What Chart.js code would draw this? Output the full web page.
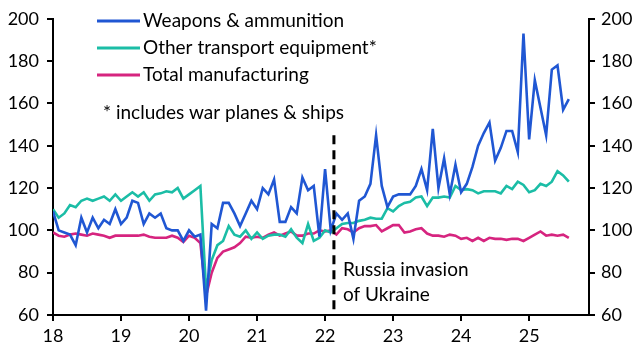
<!DOCTYPE html>
<html>
<head>
<meta charset="utf-8">
<script src="https://cdn.jsdelivr.net/npm/chart.js@4"></script>
<style>
  html, body { margin: 0; padding: 0; background: #fff; }
  #wrap { width: 640px; height: 354px; }
</style>
</head>
<body>
<div id="wrap"><canvas id="chart" width="640" height="354"></canvas></div>
<script>
'use strict';

// monthly index values, Jan 2018 to Aug 2025
var startYear = 18;
var yearTicks = [18, 19, 20, 21, 22, 23, 24, 25];
var valueTicks = [60, 80, 100, 120, 140, 160, 180, 200];
var seriesNames = ['Weapons & ammunition', 'Other transport equipment*', 'Total manufacturing'];
var seriesColors = ['#2057d3', '#1bbda6', '#d6247f'];

var weapons = [
    109, 100, 99, 98, 93, 106, 99, 106, 101, 105, 103, 110,
    103, 106, 114, 113, 103, 108, 106, 108, 101, 100, 100, 95,
    100, 97, 98, 62, 103, 101, 113, 113, 108, 102, 108, 114,
    110, 120, 117, 124, 104, 104, 111, 108, 125, 119, 121, 97,
    129, 100, 108, 105, 108, 96, 114, 116, 122, 145, 121, 111,
    116, 117, 117, 117, 121, 129, 119, 148, 120, 134, 117, 131,
    118, 122, 130, 140, 146, 151, 133, 139, 147, 147, 137, 193,
    143, 171, 158, 145, 176, 178, 157, 162
];
var otherTransport = [
    110, 106, 108, 112, 111, 114, 115, 114, 115, 116, 114, 117,
    114, 116, 118, 116, 118, 114, 117, 117.5, 118.5, 118, 120, 115,
    117, 119, 121, 72, 86, 93, 95, 102, 98, 97, 100, 96,
    99, 96, 97.5, 98, 98, 97, 100.5, 96.5, 94, 103, 95, 96.5,
    100, 99, 101, 103, 103.5, 103.5, 104.5, 105, 106, 105.5, 105.5, 110.5,
    109, 111.5, 113, 113.5, 115.5, 116, 111.5, 115.5, 115.5, 116, 115.5, 121,
    119, 119.5, 119, 117.5, 118.5, 118.5, 118.5, 117.5, 121, 119.5, 123, 121.5,
    118, 119, 122, 121, 123, 128, 126, 123
];
var totalMfg = [
    99, 97.5, 97, 98, 98.5, 98, 97.5, 98.5, 98, 97.5, 96.5, 97.5,
    97.5, 97.5, 97.5, 97.5, 98, 97, 96.5, 96.5, 96.5, 97.5, 96.5, 94.5,
    97.5, 96.5, 94, 69, 80, 87, 90, 91, 92, 94, 97, 96.5,
    97, 96.5, 98, 99, 97.5, 98.5, 99.5, 97.5, 97.5, 98.5, 98.5, 100,
    99.5, 100, 98, 101, 100.5, 99, 101, 102, 102, 102.5, 99.5, 101,
    102.5, 102.5, 99, 99.5, 100.5, 101, 98.5, 97.5, 97.5, 97, 98, 97.5,
    96, 96.5, 95, 96.5, 95, 96.5, 96, 96, 95.5, 96, 96, 95,
    96.5, 98, 99.5, 97.5, 98, 97.5, 98, 96.5
];

var invasionAt = 22.13;
var invasionTop = 145;

var FONT = 'Lato, "Noto Sans", sans-serif';

function toPoints(values) {
    return values.map((v, i) => ({ x: startYear + i / 12, y: v }));
}

var overlay = {
    id: 'overlay',
    afterDatasetsDraw: function (chart) {
        var ctx = chart.ctx;
        var xs = chart.scales.x;
        var ys = chart.scales.y;
        var area = chart.chartArea;

        // invasion marker
        var dx = xs.getPixelForValue(invasionAt);
        ctx.save();
        ctx.strokeStyle = '#000';
        ctx.lineWidth = 3;
        ctx.setLineDash([9, 6]);
        ctx.beginPath();
        ctx.moveTo(dx, ys.getPixelForValue(invasionTop));
        ctx.lineTo(dx, area.bottom);
        ctx.stroke();
        ctx.setLineDash([]);

        ctx.fillStyle = '#000';
        ctx.font = '19px ' + FONT;
        ctx.textBaseline = 'middle';
        ctx.textAlign = 'left';
        ctx.fillText('Russia invasion', dx + 9, 270);
        ctx.fillText('of Ukraine', dx + 9, 295);

        // legend
        seriesNames.forEach((name, i) => {
            var ly = 21 + i * 27;
            ctx.strokeStyle = seriesColors[i];
            ctx.lineWidth = 3;
            ctx.beginPath();
            ctx.moveTo(97, ly);
            ctx.lineTo(140, ly);
            ctx.stroke();
            ctx.fillText(name, 143, ly);
        });
        ctx.fillText('* includes war planes & ships', 103, 113);
        ctx.restore();
    }
};

function makeDataset(label, values, color) {
    return {
        label: label,
        data: toPoints(values),
        borderColor: color,
        backgroundColor: color,
        borderWidth: 2.6,
        pointRadius: 0,
        tension: 0,
        yAxisID: 'y'
    };
}

var axisTicks = {
    display: true,
    drawOnChartArea: false,
    drawTicks: true,
    tickLength: 6,
    color: '#000',
    lineWidth: 2
};

new Chart(document.getElementById('chart'), {
    type: 'line',
    data: {
        datasets: [
            makeDataset(seriesNames[0], weapons, seriesColors[0]),
            makeDataset(seriesNames[1], otherTransport, seriesColors[1]),
            makeDataset(seriesNames[2], totalMfg, seriesColors[2])
        ]
    },
    options: {
        responsive: false,
        animation: false,
        devicePixelRatio: 1,
        layout: { padding: { top: 16, left: 0, right: 0, bottom: 0 } },
        plugins: {
            legend: { display: false },
            tooltip: { enabled: false }
        },
        scales: {
            x: {
                type: 'linear',
                min: 18,
                max: 25.88,
                grid: axisTicks,
                border: { color: '#000', width: 2 },
                afterFit: s => { s.height = 39; },
                afterBuildTicks: s => { s.ticks = yearTicks.map(v => ({ value: v })); },
                ticks: {
                    color: '#000',
                    font: { family: FONT, size: 18 },
                    padding: 4,
                    maxRotation: 0,
                    callback: v => String(v)
                }
            },
            y: {
                position: 'left',
                min: 60,
                max: 200,
                grid: axisTicks,
                border: { color: '#000', width: 2 },
                afterFit: s => { s.width = 53; },
                afterBuildTicks: s => { s.ticks = valueTicks.map(v => ({ value: v })); },
                ticks: {
                    color: '#000',
                    font: { family: FONT, size: 18 },
                    padding: 8
                }
            },
            y2: {
                position: 'right',
                min: 60,
                max: 200,
                grid: axisTicks,
                border: { color: '#000', width: 2 },
                afterFit: s => { s.width = 51; },
                afterBuildTicks: s => { s.ticks = valueTicks.map(v => ({ value: v })); },
                ticks: {
                    color: '#000',
                    font: { family: FONT, size: 18 },
                    padding: 6
                }
            }
        }
    },
    plugins: [overlay]
});
</script>
</body>
</html>
